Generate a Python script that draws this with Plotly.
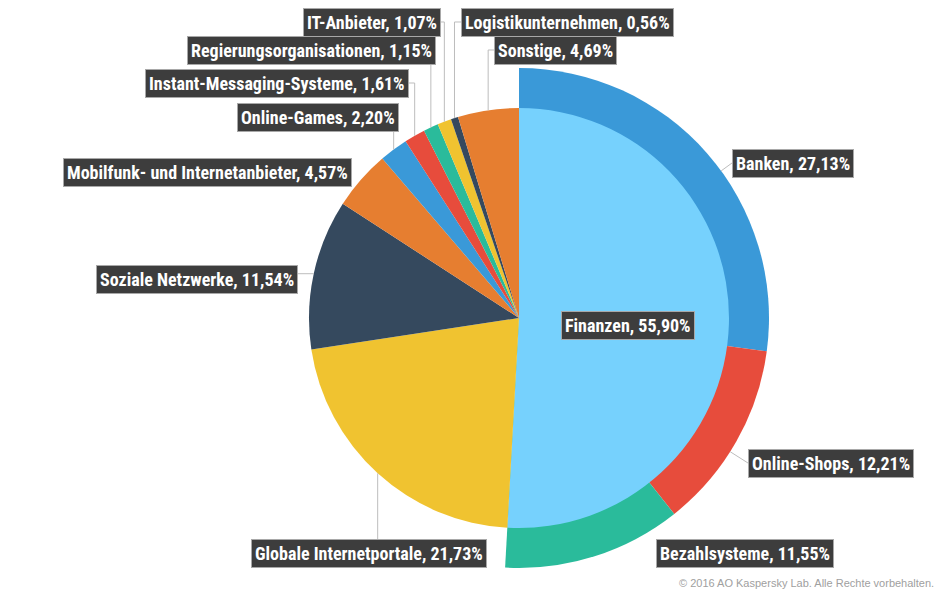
import math
import plotly.graph_objects as go

# Anteile (%) - innerer Kreis, im Uhrzeigersinn ab 12 Uhr
finance_sub_labels = ["Banken", "Online-Shops", "Bezahlsysteme"]
finance_sub_values = [27.13, 12.21, 11.55]
finance_label = "Finanzen"
finance_share_text = "55,90%"

other_labels = ["Globale Internetportale", "Soziale Netzwerke",
                "Mobilfunk- und Internetanbieter", "Online-Games",
                "Instant-Messaging-Systeme", "Regierungsorganisationen",
                "IT-Anbieter", "Logistikunternehmen", "Sonstige"]
other_values = [21.73, 11.54, 4.57, 2.20, 1.61, 1.15, 1.07, 0.56, 4.69]

other_colors = ["#f0c330", "#35495e", "#e67e30", "#3a99d8", "#e74c3c",
                "#2abb9b", "#f0c330", "#35495e", "#e67e30"]
sub_colors = ["#3a99d8", "#e74c3c", "#2abb9b"]
finance_color = "#76d1fd"

# Seite hat 8px body-margin -> Figur etwas kleiner, Koordinaten in Seiten-px
OFF = 8
W, H = 946 - OFF, 595 - OFF
CX, CY = 519, 318          # Kreismittelpunkt (Seiten-px)
R_IN, R_OUT = 210, 250     # Radien (px)

LABEL_BG = "#3d3d3d"
LABEL_BORDER = "#a8a8a8"
LEADER = "#bdbdbd"
FONT = "Roboto Condensed, DejaVu Sans Condensed, Arial Narrow, sans-serif"


def px(x, y):
    return (x - OFF) / W, 1 - (y - OFF) / H


def fmt(v):
    return f"{v:.2f}".replace(".", ",") + "%"


inner_labels = [finance_label] + other_labels
inner_values = [sum(finance_sub_values)] + other_values
inner_colors = [finance_color] + other_colors

outer_labels = finance_sub_labels + [""]
outer_values = finance_sub_values + [sum(other_values)]
outer_colors = sub_colors + ["rgba(0,0,0,0)"]

fig = go.Figure()

x0, y1 = px(CX - R_OUT, CY - R_OUT)
x1, y0 = px(CX + R_OUT, CY + R_OUT)
fig.add_trace(go.Pie(labels=outer_labels, values=outer_values, sort=False,
                     direction="clockwise", rotation=0, textinfo="none",
                     marker=dict(colors=outer_colors, line=dict(width=0)),
                     domain=dict(x=[x0, x1], y=[y0, y1]), hoverinfo="skip",
                     showlegend=False))

x0, y1 = px(CX - R_IN, CY - R_IN)
x1, y0 = px(CX + R_IN, CY + R_IN)
fig.add_trace(go.Pie(labels=inner_labels, values=inner_values, sort=False,
                     direction="clockwise", rotation=0, textinfo="none",
                     marker=dict(colors=inner_colors, line=dict(width=0)),
                     domain=dict(x=[x0, x1], y=[y0, y1]),
                     hovertemplate="%{label}<extra></extra>",
                     showlegend=False))


def mid_point(values, idx, r):
    total = sum(values)
    start = sum(values[:idx])
    a = 2 * math.pi * (start + values[idx] / 2) / total
    return CX + r * math.sin(a), CY - r * math.cos(a)


# Beschriftung: Anker-x, Mitte-y, xanchor, Linienart
placement = {
    "Banken": (732, 163, "left", "r"),
    "Online-Shops": (748, 463, "left", "r"),
    "Bezahlsysteme": (656, 553, "left", None),
    "Finanzen": (561, 325, "left", None),
    "Globale Internetportale": (251, 553, "left", "vb"),
    "Soziale Netzwerke": (298, 279, "right", "h"),
    "Mobilfunk- und Internetanbieter": (352, 172, "right", None),
    "Online-Games": (399, 117, "right", "v"),
    "Instant-Messaging-Systeme": (409, 83, "right", "v"),
    "Regierungsorganisationen": (436, 50, "right", "v"),
    "IT-Anbieter": (441, 22, "right", "v"),
    "Logistikunternehmen": (461, 22, "left", "v"),
    "Sonstige": (494, 50, "left", "v"),
}

items = [(finance_label, finance_share_text, None)]
for i, (lab, val) in enumerate(zip(finance_sub_labels, finance_sub_values)):
    items.append((lab, fmt(val), mid_point(outer_values, i, R_OUT)))
for i, (lab, val) in enumerate(zip(other_labels, other_values)):
    items.append((lab, fmt(val), mid_point(inner_values, i + 1, R_IN)))

shapes = []
annotations = []
for lab, txt, pt in items:
    ax, ay, anchor, kind = placement[lab]
    xa, ya = px(ax, ay)
    annotations.append(dict(
        x=xa, y=ya, xref="paper", yref="paper", xanchor=anchor,
        yanchor="middle", showarrow=False,
        text=f"<b>{lab}, {txt}</b>",
        font=dict(family=FONT, size=18, color="white"),
        bgcolor=LABEL_BG, bordercolor=LABEL_BORDER, borderwidth=1,
        borderpad=3))
    if kind is None:
        continue
    if kind == "r":
        dx, dy = ax - CX, ay - CY
        d = math.hypot(dx, dy)
        sx, sy = CX + R_OUT * dx / d, CY + R_OUT * dy / d
        path_pts = [(ax, ay), (sx, sy)]
    elif kind == "v":
        sx, sy = pt
        path_pts = [(ax, ay), (sx, ay), (sx, sy)]
    elif kind == "vb":
        sx, sy = pt
        path_pts = [(sx, ay), (sx, sy)]
    else:
        sx, sy = pt
        path_pts = [(ax, sy), (sx, sy)]
    path = "M " + " L ".join(f"{px(x, y)[0]:.5f},{px(x, y)[1]:.5f}"
                            for x, y in path_pts)
    shapes.append(dict(type="path", path=path, xref="paper", yref="paper",
                       line=dict(color=LEADER, width=1), layer="above"))

annotations.append(dict(
    x=px(936, 0)[0], y=px(0, 583)[1], xref="paper", yref="paper",
    xanchor="right", yanchor="middle", showarrow=False,
    text="© 2016 AO Kaspersky Lab. Alle Rechte vorbehalten.",
    font=dict(family="Liberation Sans, Arial, sans-serif", size=11,
              color="#a0a0a0")))

fig.update_layout(width=W, height=H, margin=dict(l=0, r=0, t=0, b=0),
                  paper_bgcolor="white", plot_bgcolor="white",
                  shapes=shapes, annotations=annotations)

fig.write_html("out.html")
